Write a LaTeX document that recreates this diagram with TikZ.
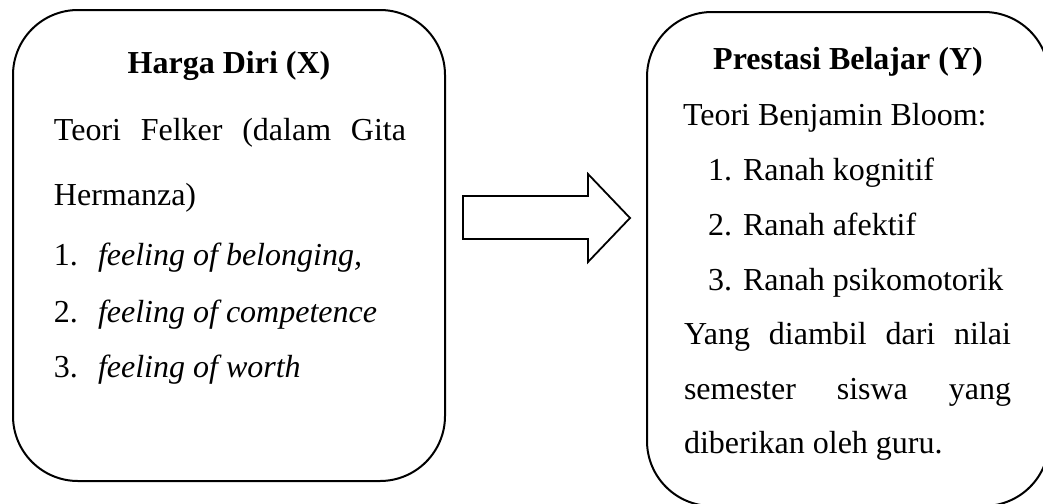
\documentclass[tikz,border=0pt]{standalone}
\usepackage{fontspec}
\setmainfont{Liberation Serif}
\usetikzlibrary{calc}

\begin{document}
\begin{tikzpicture}[x=0.5pt, y=-0.5pt, line width=1pt,
	txt/.style={anchor=base west, inner sep=0pt, font=\fontsize{16}{19}\selectfont},
	ttl/.style={anchor=base, inner sep=0pt, font=\fontsize{16}{19}\selectfont\bfseries},
	boxline/.style={draw, rounded corners=32.5pt}]
	\useasboundingbox (0,0) rectangle (1043,503);
	
	% Draw the two rounded boxes
	\draw[boxline] (13,10) rectangle (445,481);
	\draw[boxline] (647,12) rectangle (1049,506);
	
	% Left box: Harga Diri (X)
	\node[ttl] (xtitle) at (229,73) {Harga Diri (X)};
	\node[txt] (xteori) at (53,140) {\makebox[176pt][s]{Teori Felker (dalam Gita}};
	\node[txt] (xsumber) at (53,205) {Hermanza)};
	\node[txt] (xnum1) at (53,265) {1.};
	\node[txt] (xitem1) at (97,265) {\itshape feeling of belonging,};
	\node[txt] (xnum2) at (53,322) {2.};
	\node[txt] (xitem2) at (97,322) {\itshape feeling of competence};
	\node[txt] (xnum3) at (53,377) {3.};
	\node[txt] (xitem3) at (97,377) {\itshape feeling of worth};
	
	% Block arrow from X to Y
	\draw[line width=0.9pt] (463,196) -- (588,196) -- (588,174) -- (630,218)
		-- (588,262) -- (588,239) -- (463,239) -- cycle;
	
	% Right box: Prestasi Belajar (Y)
	\node[ttl] (ytitle) at (848,69) {Prestasi Belajar (Y)};
	\node[txt] (yteori) at (682,125) {Teori Benjamin Bloom:};
	\node[txt] (ynum1) at (707,180) {1.};
	\node[txt] (yitem1) at (742,180) {Ranah kognitif};
	\node[txt] (ynum2) at (707,235) {2.};
	\node[txt] (yitem2) at (742,235) {Ranah afektif};
	\node[txt] (ynum3) at (707,290) {3.};
	\node[txt] (yitem3) at (742,290) {Ranah psikomotorik};
	\node[txt] (ynilai1) at (683,344) {\makebox[163.5pt][s]{Yang diambil dari nilai}};
	\node[txt] (ynilai2) at (683,399) {\makebox[163.5pt][s]{semester siswa yang}};
	\node[txt] (ynilai3) at (683,453) {diberikan oleh guru.};
\end{tikzpicture}
\end{document}
